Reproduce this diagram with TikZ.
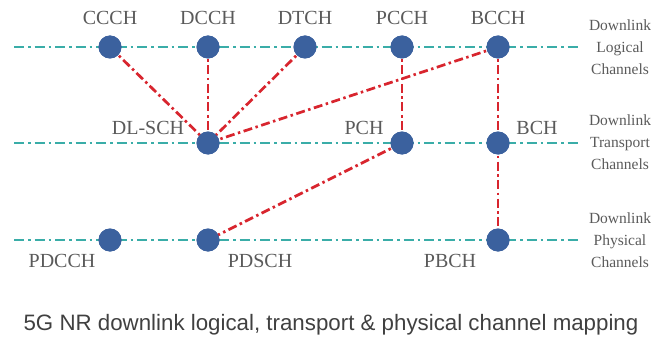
\documentclass[tikz,border=0pt]{standalone}
\usepackage{fontspec}
\setmainfont{Liberation Serif}
\newfontfamily\capfont{Liberation Sans}
\definecolor{teal1}{HTML}{3AADA8}
\definecolor{red1}{HTML}{D8252E}
\definecolor{dot1}{HTML}{3B619E}
\definecolor{txt}{HTML}{5A5A5A}
\begin{document}
\begin{tikzpicture}[x=1pt,y=-1pt,
  chline/.style={teal1,line width=2.8pt,dash pattern=on 10pt off 4pt on 2.5pt off 4pt},
  mapline/.style={red1,line width=2.7pt,dash pattern=on 9pt off 3.5pt on 2.5pt off 3.5pt},
  chdot/.style={circle,fill=dot1,minimum size=23pt,inner sep=0pt},
  lbl/.style={text=txt,font=\fontsize{20}{20}\selectfont,inner sep=0pt},
  side/.style={text=txt,font=\fontsize{15.5}{22}\selectfont,align=center,inner sep=0pt}]
\useasboundingbox (0,0) rectangle (655,342);
% channel lines
\coordinate (l1a) at (14,47); \coordinate (l1b) at (580,47);
\coordinate (l2a) at (14,143); \coordinate (l2b) at (580,143);
\coordinate (l3a) at (14,240); \coordinate (l3b) at (580,240);
\draw[chline] (l1a) -- (l1b);
\draw[chline] (l2a) -- (l2b);
\draw[chline] (l3a) -- (l3b);
% dots
\node[chdot] (ccch) at (110,47) {};
\node[chdot] (dcch) at (208,47) {};
\node[chdot] (dtch) at (305,47) {};
\node[chdot] (pcch) at (402,47) {};
\node[chdot] (bcch) at (498,47) {};
\node[chdot] (dlsch) at (208,143) {};
\node[chdot] (pch) at (402,143) {};
\node[chdot] (bch) at (498,143) {};
\node[chdot] (pdcch) at (110,240) {};
\node[chdot] (pdsch) at (208,240) {};
\node[chdot] (pbch) at (498,240) {};
% mapping lines
\draw[mapline] (ccch.center) -- (dlsch.center);
\draw[mapline] (dcch.center) -- (dlsch.center);
\draw[mapline] (dtch.center) -- (dlsch.center);
\draw[mapline] (bcch.center) -- (dlsch.center);
\draw[mapline] (pcch.center) -- (pch.center);
\draw[mapline] (bcch.center) -- (bch.center);
\draw[mapline] (bch.center) -- (pbch.center);
\draw[mapline] (pch.center) -- (pdsch.center);
% redraw dots on top
\foreach \n in {ccch,dcch,dtch,pcch,bcch,dlsch,pch,bch,pdcch,pdsch,pbch}
  \fill[dot1] (\n) circle (11.5pt);
% labels
\node[lbl] (tccch) at (110,18) {CCCH};
\node[lbl] (tdcch) at (208,18) {DCCH};
\node[lbl] (tdtch) at (305,18) {DTCH};
\node[lbl] (tpcch) at (402,18) {PCCH};
\node[lbl] (tbcch) at (498,18) {BCCH};
\node[lbl] (tdlsch) at (148,128) {DL-SCH};
\node[lbl] (tpch) at (364,128) {PCH};
\node[lbl] (tbch) at (537,128) {BCH};
\node[lbl] (tpdcch) at (62,261) {PDCCH};
\node[lbl] (tpdsch) at (260,261) {PDSCH};
\node[lbl] (tpbch) at (450,261) {PBCH};
\node[side] (s1) at (620,47) {Downlink\\Logical\\Channels};
\node[side] (s2) at (620,142) {Downlink\\Transport\\Channels};
\node[side] (s3) at (620,240) {Downlink\\Physical\\Channels};
\node[text=black!75,font=\capfont\fontsize{22.3}{22.3}\selectfont,inner sep=0pt] (cap) at (331,325) {5G NR downlink logical, transport \& physical channel mapping};
\end{tikzpicture}
\end{document}
